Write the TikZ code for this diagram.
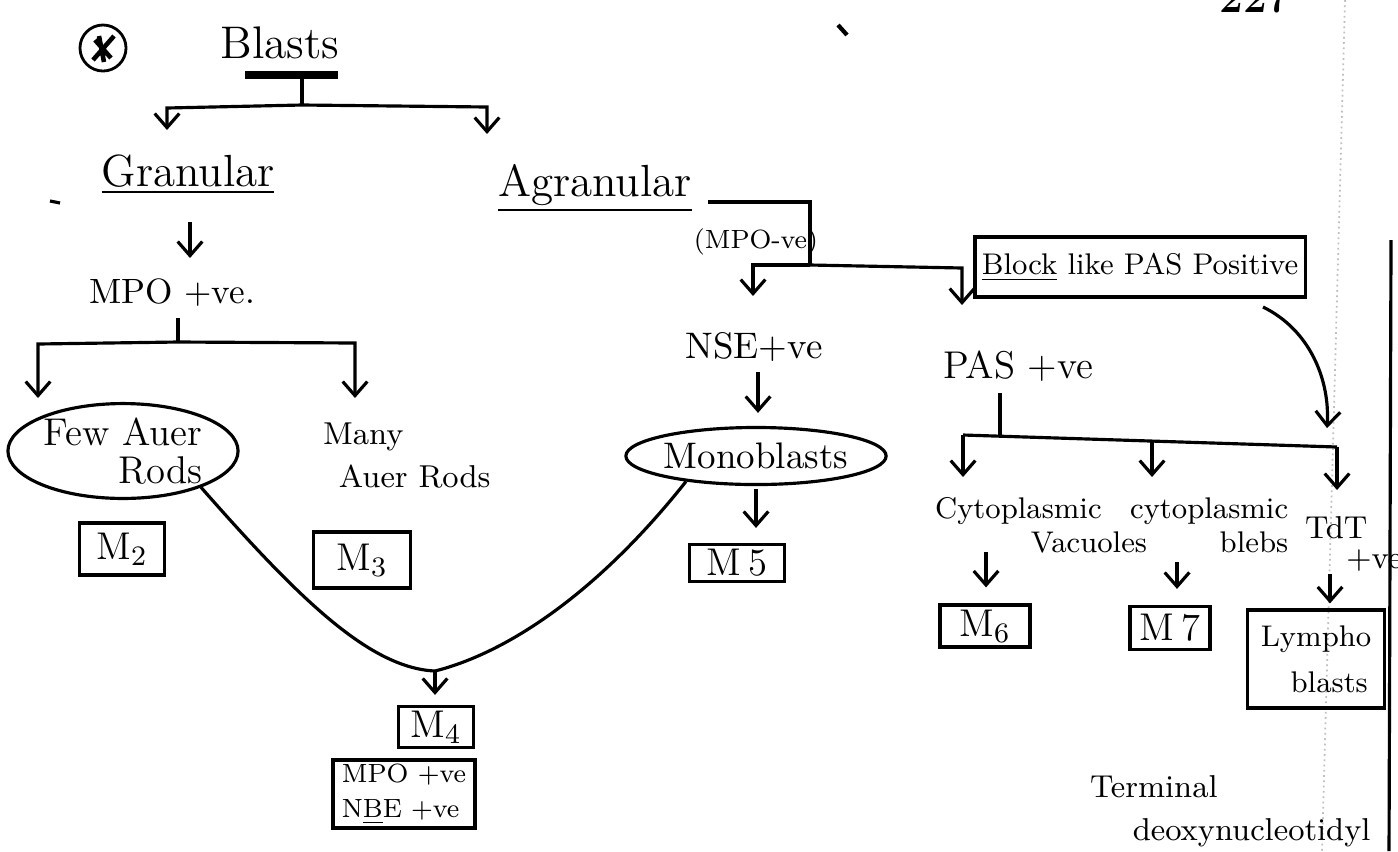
\documentclass[tikz,border=0pt]{standalone}
\usetikzlibrary{arrows.meta,shapes.geometric}

\begin{document}
\begin{tikzpicture}[x=0.01cm,y=-0.01cm,>={Straight Barb[length=4pt,width=7pt]},line width=0.9pt,
  every node/.style={inner sep=1pt},
  bigtext/.style={font=\fontsize{13}{15}\selectfont},
  hdtext/.style={font=\fontsize{12.8}{15}\selectfont},
  lbtext/.style={font=\fontsize{10}{12}\selectfont},
  smtext/.style={font=\fontsize{8.5}{9.5}\selectfont},
  mbox/.style={draw,font=\fontsize{11}{13}\selectfont},
  blob/.style={draw,ellipse,inner sep=0pt}]

  \useasboundingbox (0,0) rectangle (1398,851);

  % margin lines, page number
  \draw[gray!50,line width=0.5pt,densely dotted] (1345,0) -- (1322,851);
  \draw (1391,240) -- (1389,851);
  \node[font=\bfseries\fontsize{12}{14}\selectfont,anchor=south] (page) at (1255,18) {227};
  \draw[line width=1.2pt] (838,25) -- (847,35);

  % circled mark
  \node[draw,circle,minimum size=0.46cm,line width=0.8pt] (mark) at (103,48) {};
  \draw[line width=1.3pt] (93,60) -- (114,36) (95,40) -- (111,58) (99,36) -- (104,62);

  % Blasts
  \node[bigtext,anchor=base] (blasts) at (280,58) {Blasts};
  \draw[line width=2.2pt] (245,75) -- (338,75);
  \coordinate (bl-top) at (302,76);
  \coordinate (bl-split) at (302,105);
  \coordinate (gran-in) at (167,130);
  \coordinate (agran-in) at (487,134);
  \draw (bl-top) -- (bl-split);
  \draw[->] (bl-split) -- (167,108) -- (gran-in);
  \draw[->] (bl-split) -- (487,107) -- (agran-in);

  % granular side
  \draw (50,201) -- (60,203);
  \node[hdtext,anchor=base] (gran) at (188,186) {\underline{Granular}};
  \node[lbtext,anchor=base] (mpopos) at (172,303) {MPO +ve.};
  \coordinate (gran-out) at (190,222);
  \draw[->] (gran-out) -- (190,258);

  \coordinate (mp-top) at (178,318);
  \coordinate (mp-split) at (178,342);
  \coordinate (few-in) at (38,398);
  \coordinate (many-in) at (355,398);
  \draw (mp-top) -- (mp-split);
  \draw[->] (mp-split) -- (38,344) -- (few-in);
  \draw[->] (mp-split) -- (355,343) -- (many-in);

  \node[blob,minimum width=2.3cm,minimum height=0.92cm,align=right,font=\fontsize{11}{11}\selectfont] (few) at (123,451) {Few Auer\\Rods};
  \node[anchor=base west,align=left,font=\fontsize{9}{12}\selectfont] (many) at (318,487) {Many\\\hspace*{0.5em}Auer Rods};

  \node[mbox,minimum width=0.85cm,minimum height=0.52cm] (m2) at (122,549) {M$_2$};
  \node[mbox,minimum width=0.97cm,minimum height=0.56cm] (m3) at (362,560) {M$_3$};

  % agranular side
  \node[hdtext,anchor=base] (agran) at (595,196) {\underline{Agranular}};
  \node[anchor=base,font=\fontsize{7.5}{9}\selectfont] (mponeg) at (756,248) {(MPO-ve)};
  \coordinate (ag-out) at (708,202);
  \coordinate (ag-split) at (810,265);
  \coordinate (nse-in) at (753,296);
  \coordinate (pas-in) at (962,305);
  \draw (ag-out) -- (810,202) -- (ag-split);
  \draw[->] (ag-split) -- (753,265) -- (nse-in);
  \draw[->] (ag-split) -- (962,268) -- (pas-in);

  \node[anchor=base,font=\fontsize{10.5}{12}\selectfont] (nse) at (754,358) {NSE+ve};
  \node[blob,minimum width=2.17cm,minimum height=0.57cm,font=\fontsize{10.5}{12}\selectfont] (mono) at (756,456) {Monoblasts};
  \node[mbox,minimum width=0.95cm,minimum height=0.37cm] (m5) at (737,563) {M\,5};
  \coordinate (nse-out) at (758,372);
  \draw[->,shorten >=1.3mm] (nse-out) -- (nse-out |- mono.north);
  \draw[->,shorten <=0.3mm,shorten >=1.5mm] (mono.south) -- (mono.south |- m5.north);

  % both oval routes meet at M4
  \coordinate (m4-join) at (435,671);
  \draw (few.-25) .. controls (300,600) and (370,668) .. (m4-join);
  \draw (mono.-160) .. controls (600,590) and (510,652) .. (m4-join);
  \node[mbox,minimum width=0.75cm,minimum height=0.41cm] (m4) at (436,727) {M$_4$};
  \draw[->,shorten >=1mm] (m4-join) -- (m4-join |- m4.north);
  \node[draw,minimum width=1.42cm,minimum height=0.68cm,align=left,font=\fontsize{7.5}{10}\selectfont] (m4stain) at (404,794) {MPO +ve\\N\underline{B}E +ve};

  % PAS branch
  \node[draw,minimum width=3.3cm,minimum height=0.6cm,smtext] (block) at (1140,267) {\underline{Block} like PAS Positive};
  \node[anchor=base,font=\fontsize{11}{13}\selectfont] (pas) at (1018,378) {PAS +ve};
  \coordinate (pas-out) at (1000,393);
  \coordinate (pas-split) at (1000,437);
  \draw (pas-out) -- (pas-split);
  \draw (963,435) -- (1337,447);
  \coordinate (vac-in) at (963,477);
  \coordinate (bleb-in) at (1152,477);
  \coordinate (tdt-in) at (1337,490);
  \draw[->] (963,435) -- (vac-in);
  \draw[->] (1152,441) -- (bleb-in);
  \draw[->] (1337,447) -- (tdt-in);
  \draw[->] (1263,307) .. controls (1310,330) and (1330,380) .. (1327,428);

  \node[anchor=base west,align=left,smtext] (vac) at (930,552) {Cytoplasmic\\\hspace*{3.2em}Vacuoles};
  \node[anchor=base west,align=right,font=\fontsize{8.5}{9.5}\selectfont] (bleb) at (1125,552) {cytoplasmic\\blebs};
  \node[anchor=base west,align=left,font=\fontsize{9}{8.5}\selectfont] (tdt) at (1300,568) {TdT\\\hspace*{1.3em}+ve};

  \node[mbox,minimum width=0.9cm,minimum height=0.42cm] (m6) at (985,626) {M$_6$};
  \node[mbox,minimum width=0.8cm,minimum height=0.43cm] (m7) at (1170,628) {M\,7};
  \node[draw,minimum width=1.37cm,minimum height=0.98cm,align=left,font=\fontsize{8.5}{13}\selectfont] (lympho) at (1316,659) {Lympho\\\hspace*{1em}blasts};
  \coordinate (vac-out) at (986,552);
  \coordinate (bleb-out) at (1177,562);
  \coordinate (tdt-out) at (1330,574);
  \draw[->,shorten >=1.6mm] (vac-out) -- (vac-out |- m6.north);
  \draw[->,shorten >=1.6mm] (bleb-out) -- (bleb-out |- m7.north);
  \draw[->,shorten >=0.5mm] (tdt-out) -- (tdt-out |- lympho.north);

  % TdT in full
  \node[anchor=base west,align=left,font=\fontsize{9}{12}\selectfont] (tdtfull) at (1085,840) {Terminal\\\hspace*{1.35em}deoxynucleotidyl};

\end{tikzpicture}
\end{document}
